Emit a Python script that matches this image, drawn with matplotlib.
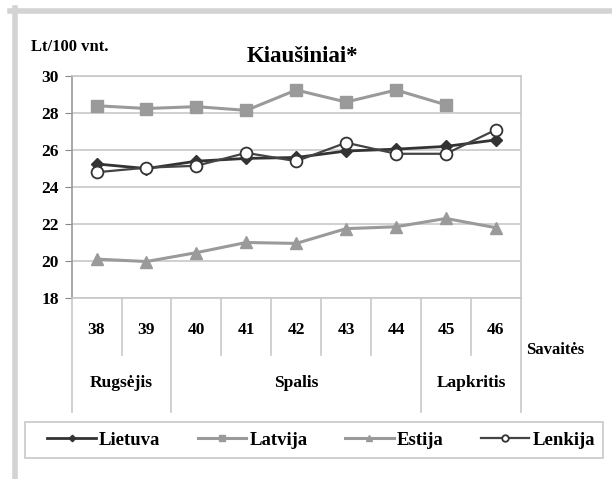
import numpy as np
import matplotlib.pyplot as plt
from matplotlib.lines import Line2D
from matplotlib.patches import Rectangle
from matplotlib.transforms import blended_transform_factory

plt.rcParams["font.family"] = ["Liberation Serif", "DejaVu Serif"]
plt.rcParams["font.weight"] = "bold"

# duomenys
savaites = ["38", "39", "40", "41", "42", "43", "44", "45", "46"]
menesiai = ["Rugsėjis", "Spalis", "Lapkritis"]
menesiu_savaites = [2, 5, 2]

lietuva = [25.25, 25.0, 25.4, 25.55, 25.6, 25.95, 26.05, 26.2, 26.55]
latvija = [28.4, 28.25, 28.35, 28.15, 29.25, 28.6, 29.25, 28.45, np.nan]
estija = [20.1, 19.97, 20.45, 21.0, 20.95, 21.75, 21.85, 22.3, 21.8]
lenkija = [24.8, 25.05, 25.15, 25.85, 25.4, 26.4, 25.8, 25.8, 27.1]

tamsi = "#333333"
pilka = "#9a9a9a"
linija = "#c8c8c8"

fig = plt.figure(figsize=(6.12, 4.79), dpi=100)
ax = fig.add_axes([0.117, 0.378, 0.734, 0.463])

x = np.arange(len(savaites))
ax.plot(x, latvija, color=pilka, lw=2.2, marker="s", ms=8, mec=pilka, mfc=pilka, label="Latvija")
ax.plot(x, estija, color=pilka, lw=2.2, marker="^", ms=8, mec=pilka, mfc=pilka, label="Estija")
ax.plot(x, lietuva, color=tamsi, lw=2.0, marker="D", ms=6, mec=tamsi, mfc=tamsi, label="Lietuva")
ax.plot(x, lenkija, color="#444444", lw=1.6, marker="o", ms=8.5, mec="#333333", mfc="white",
        mew=1.3, label="Lenkija")

ax.set_xlim(-0.5, len(savaites) - 0.5)
ax.set_ylim(18, 30)
ax.set_yticks(range(18, 31, 2))
ax.tick_params(axis="y", labelsize=12.5, length=5, color="#888888", pad=4)
ax.set_xticks([])
ax.yaxis.grid(True, color=linija, lw=1.2)
ax.set_axisbelow(True)
for s in ax.spines.values():
    s.set_color(linija)
    s.set_linewidth(1.2)
ax.spines["left"].set_color("#999999")

# kategorijų ašis po grafiku
tr = blended_transform_factory(ax.transData, ax.transAxes)
for i, lab in enumerate(savaites):
    ax.text(i, -0.145, lab, transform=tr, ha="center", va="center", fontsize=12.5)

ribos = np.cumsum([0] + menesiu_savaites) - 0.5
for b in np.arange(-0.5, len(savaites)):
    y_end = -0.514 if b in ribos else -0.257
    ax.plot([b, b], [0, y_end], transform=tr, color=linija, lw=1.2, clip_on=False)
for m, a, b in zip(menesiai, ribos[:-1], ribos[1:]):
    ax.text((a + b) / 2, -0.385, m, transform=tr, ha="center", va="center", fontsize=12.5)

fig.text(0.860, 1 - 350 / 479, "Savaitės", ha="left", va="center", fontsize=12)
fig.text(0.050, 1 - 47 / 479, "Lt/100 vnt.", ha="left", va="center", fontsize=12)
fig.text(0.495, 1 - 56 / 479, "Kiaušiniai*", ha="center", va="center", fontsize=16.5)

# legenda su atskiru rėmeliu
fig.add_artist(Rectangle((25 / 612, 1 - 458 / 479), 578 / 612, 36 / 479,
                         transform=fig.transFigure, fill=False, ec=linija, lw=1.2))
h, l = ax.get_legend_handles_labels()
tvarka = [2, 0, 1, 3]
fig.legend([h[i] for i in tvarka], [l[i] for i in tvarka], ncol=4,
           loc="center", bbox_to_anchor=(321 / 612, 1 - 440 / 479),
           fontsize=13.5, frameon=False, markerscale=0.55, handlelength=2.6,
           handletextpad=0.15, columnspacing=2.0)

# pilkas rėmelis viršuje ir kairėje
fig.add_artist(Line2D([10 / 612, 1], [1 - 10.5 / 479] * 2, color="#d3d3d3", lw=4))
fig.add_artist(Line2D([14.5 / 612] * 2, [0, 1 - 8 / 479], color="#d3d3d3", lw=4))

fig.savefig("out.png", dpi=100)
